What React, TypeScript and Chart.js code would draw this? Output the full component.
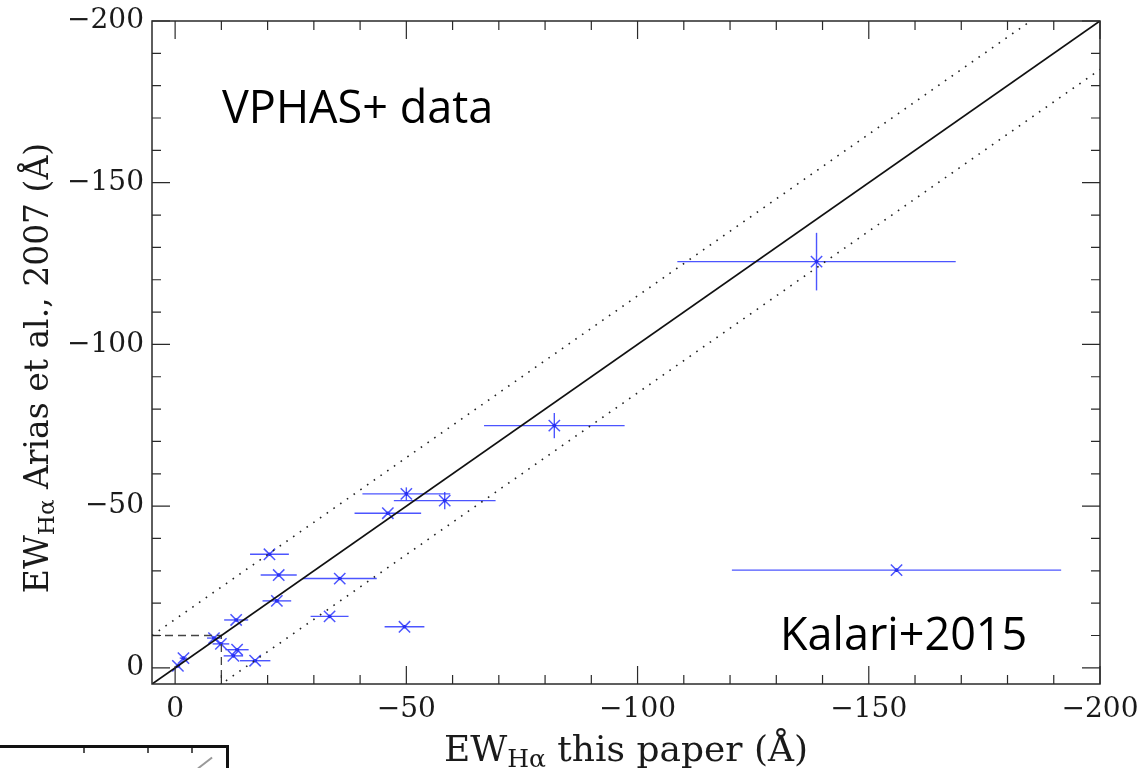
import React, { useEffect, useRef } from "react";
import { Chart, registerables } from "chart.js";

Chart.register(...registerables);

// ---- Data ----
const xVals = [-138.7, -82.0, -50.0, -58.3, -46.0, -20.4, -22.4, -35.6, -22.0, -33.4, -49.6, -13.2, -8.4, -9.9, -13.4, -12.6, -17.3, -1.8, -0.6, -156.0];
const yVals = [-125.6, -74.9, -53.8, -51.7, -47.8, -35.1, -28.7, -27.6, -20.7, -15.9, -12.7, -14.8, -9.2, -7.4, -5.6, -3.7, -2.2, -3.0, -0.6, -30.2];
const xErr = [30.1, 15.2, 9.5, 11.0, 7.2, 4.2, 3.9, 8.0, 3.1, 4.1, 4.3, 2.6, 1.5, 1.8, 2.5, 2.1, 3.3, 0.8, 0.5, 35.6];
const yErr = [8.9, 3.9, 2.0, 2.7, 0, 0, 0, 0, 0, 0, 0, 0, 0, 0, 0, 0, 0, 0, 0, 0];

const axisMin = -200;
const axisMax = 5;
const majorTicks = [0, -50, -100, -150, -200];
const minorStep = 10;
const bandOffset = 15;
const zoomBox = -10;

const xTitleParts = ["EW", "Hα", " this paper (Å)"];
const yTitleParts = ["EW", "Hα", " Arias et al., 2007 (Å)"];
const annotations = [
  { text: "VPHAS+ data", x: 222, y: 123 },
  { text: "Kalari+2015", x: 780, y: 650 },
];

const BLUE = "rgba(45,55,255,0.85)";
const SERIF = "'DejaVu Serif', serif";

const fmt = (v: number) => (v === 0 ? "0" : "\u2212" + Math.abs(v));

function drawSubTitle(ctx: CanvasRenderingContext2D, parts: string[], size: number) {
  const big = `${size}px ${SERIF}`;
  const small = `${Math.round(size * 0.7)}px ${SERIF}`;
  ctx.font = big;
  const w0 = ctx.measureText(parts[0]).width;
  const w2 = ctx.measureText(parts[2]).width;
  ctx.font = small;
  const w1 = ctx.measureText(parts[1]).width;
  const total = w0 + w1 + w2;
  let x = -total / 2;
  ctx.textAlign = "left";
  ctx.textBaseline = "alphabetic";
  ctx.font = big;
  ctx.fillText(parts[0], x, 0);
  x += w0;
  ctx.font = small;
  ctx.fillText(parts[1], x, 6);
  x += w1;
  ctx.font = big;
  ctx.fillText(parts[2], x, 0);
}

const errorBarPlugin = {
  id: "errorBars",
  beforeDatasetsDraw(chart: any) {
    const { ctx, chartArea } = chart;
    const xs = chart.scales.x;
    const ys = chart.scales.y;
    ctx.save();
    ctx.beginPath();
    ctx.rect(chartArea.left, chartArea.top, chartArea.right - chartArea.left, chartArea.bottom - chartArea.top);
    ctx.clip();
    ctx.strokeStyle = BLUE;
    ctx.lineWidth = 1.4;
    xVals.forEach((xv, i) => {
      const px = xs.getPixelForValue(xv);
      const py = ys.getPixelForValue(yVals[i]);
      if (xErr[i] > 0) {
        ctx.beginPath();
        ctx.moveTo(xs.getPixelForValue(xv - xErr[i]), py);
        ctx.lineTo(xs.getPixelForValue(xv + xErr[i]), py);
        ctx.stroke();
      }
      if (yErr[i] > 0) {
        ctx.beginPath();
        ctx.moveTo(px, ys.getPixelForValue(yVals[i] - yErr[i]));
        ctx.lineTo(px, ys.getPixelForValue(yVals[i] + yErr[i]));
        ctx.stroke();
      }
    });
    ctx.restore();
  },
};

const framePlugin = {
  id: "frameTicks",
  afterDraw(chart: any) {
    const { ctx, chartArea } = chart;
    const xs = chart.scales.x;
    const ys = chart.scales.y;
    const { left, right, top, bottom } = chartArea;
    ctx.save();
    ctx.strokeStyle = "#2a2a2a";
    ctx.lineWidth = 1.5;
    ctx.strokeRect(left, top, right - left, bottom - top);
    ctx.lineWidth = 1.2;
    for (let v = 0; v >= axisMin; v -= minorStep) {
      const major = majorTicks.includes(v);
      const len = major ? 18 : 9;
      const px = xs.getPixelForValue(v);
      ctx.beginPath();
      ctx.moveTo(px, bottom);
      ctx.lineTo(px, bottom - len);
      ctx.moveTo(px, top);
      ctx.lineTo(px, top + len);
      ctx.stroke();
      const py = ys.getPixelForValue(v);
      ctx.beginPath();
      ctx.moveTo(left, py);
      ctx.lineTo(left + len, py);
      ctx.moveTo(right, py);
      ctx.lineTo(right - len, py);
      ctx.stroke();
    }
    // axis titles
    ctx.fillStyle = "#1a1a1a";
    ctx.save();
    ctx.translate((left + right) / 2, 761);
    drawSubTitle(ctx, xTitleParts, 36);
    ctx.restore();
    ctx.save();
    ctx.translate(48, 368);
    ctx.rotate(-Math.PI / 2);
    drawSubTitle(ctx, yTitleParts, 33);
    ctx.restore();
    // annotations
    ctx.fillStyle = "#000";
    ctx.font = "45px 'Open Sans', sans-serif";
    ctx.textAlign = "left";
    ctx.textBaseline = "alphabetic";
    annotations.forEach((a) => ctx.fillText(a.text, a.x, a.y));
    ctx.restore();
  },
};

export default function App() {
  const ref = useRef<HTMLCanvasElement | null>(null);
  useEffect(() => {
    document.body.style.margin = "0";
    const canvas = ref.current;
    if (!canvas) return;
    const lineX = [axisMax, axisMin];
    const chart = new Chart(canvas, {
      type: "scatter",
      data: {
        datasets: [
          {
            type: "line",
            data: lineX.map((v) => ({ x: v, y: v })),
            borderColor: "#111",
            borderWidth: 1.8,
            pointRadius: 0,
            fill: false,
          } as any,
          {
            type: "line",
            data: lineX.map((v) => ({ x: v, y: v - bandOffset })),
            borderColor: "#222",
            borderWidth: 1.6,
            borderDash: [1.6, 6.6],
            pointRadius: 0,
            fill: false,
          } as any,
          {
            type: "line",
            data: lineX.map((v) => ({ x: v, y: v + bandOffset })),
            borderColor: "#222",
            borderWidth: 1.6,
            borderDash: [1.6, 6.6],
            pointRadius: 0,
            fill: false,
          } as any,
          {
            type: "line",
            data: [
              { x: axisMax, y: zoomBox },
              { x: zoomBox, y: zoomBox },
              { x: zoomBox, y: axisMax },
            ],
            borderColor: "#444",
            borderWidth: 1.3,
            borderDash: [8, 5],
            pointRadius: 0,
            fill: false,
          } as any,
          {
            data: xVals.map((x, i) => ({ x, y: yVals[i] })),
            pointStyle: "crossRot",
            pointRadius: 8,
            borderColor: BLUE,
            borderWidth: 1.5,
          } as any,
          {
            data: xVals.map((x, i) => ({ x, y: yVals[i] })),
            pointStyle: "circle",
            pointRadius: 1.8,
            borderWidth: 0,
            backgroundColor: "rgba(20,20,200,1)",
          } as any,
        ],
      },
      options: {
        responsive: false,
        animation: false,
        events: [],
        layout: { padding: { left: 0, top: 21, right: 41, bottom: 0 } },
        plugins: { legend: { display: false }, tooltip: { enabled: false } },
        scales: {
          x: {
            type: "linear",
            min: axisMin,
            max: axisMax,
            reverse: true,
            grid: { display: false },
            border: { display: false },
            afterBuildTicks: (s: any) => {
              s.ticks = majorTicks.map((v) => ({ value: v }));
            },
            afterFit: (s: any) => {
              s.height = 84;
            },
            ticks: {
              callback: (v: any) => fmt(Number(v)),
              font: { family: "DejaVu Serif", size: 28 },
              color: "#1a1a1a",
              padding: 1,
              maxRotation: 0,
            },
          },
          y: {
            type: "linear",
            min: axisMin,
            max: axisMax,
            reverse: true,
            grid: { display: false },
            border: { display: false },
            afterBuildTicks: (s: any) => {
              s.ticks = majorTicks.map((v) => ({ value: v }));
            },
            afterFit: (s: any) => {
              s.width = 152;
            },
            ticks: {
              callback: (v: any) => fmt(Number(v)),
              font: { family: "DejaVu Serif", size: 28 },
              color: "#1a1a1a",
              padding: 0,
            },
          },
        },
      } as any,
      plugins: [errorBarPlugin, framePlugin],
    });
    return () => chart.destroy();
  }, []);

  const frag: React.CSSProperties = { position: "absolute", background: "#111" };
  return (
    <div style={{ position: "fixed", left: 0, top: 0, width: 1141, height: 768, background: "#fff", overflow: "hidden" }}>
      <canvas ref={ref} width={1141} height={768} style={{ display: "block" }} />
      <div style={{ ...frag, left: 0, top: 745, width: 229, height: 3 }} />
      <div style={{ ...frag, left: 226, top: 745, width: 3, height: 23 }} />
      <div style={{ ...frag, left: 83, top: 748, width: 1.5, height: 5, background: "#555" }} />
      <div style={{ ...frag, left: 147, top: 748, width: 1.5, height: 5, background: "#555" }} />
      <div style={{ ...frag, left: 191, top: 748, width: 1.5, height: 5, background: "#555" }} />
      <div style={{ ...frag, left: 196, top: 762, width: 18, height: 2, background: "#999", transform: "rotate(-38deg)" }} />
    </div>
  );
}
